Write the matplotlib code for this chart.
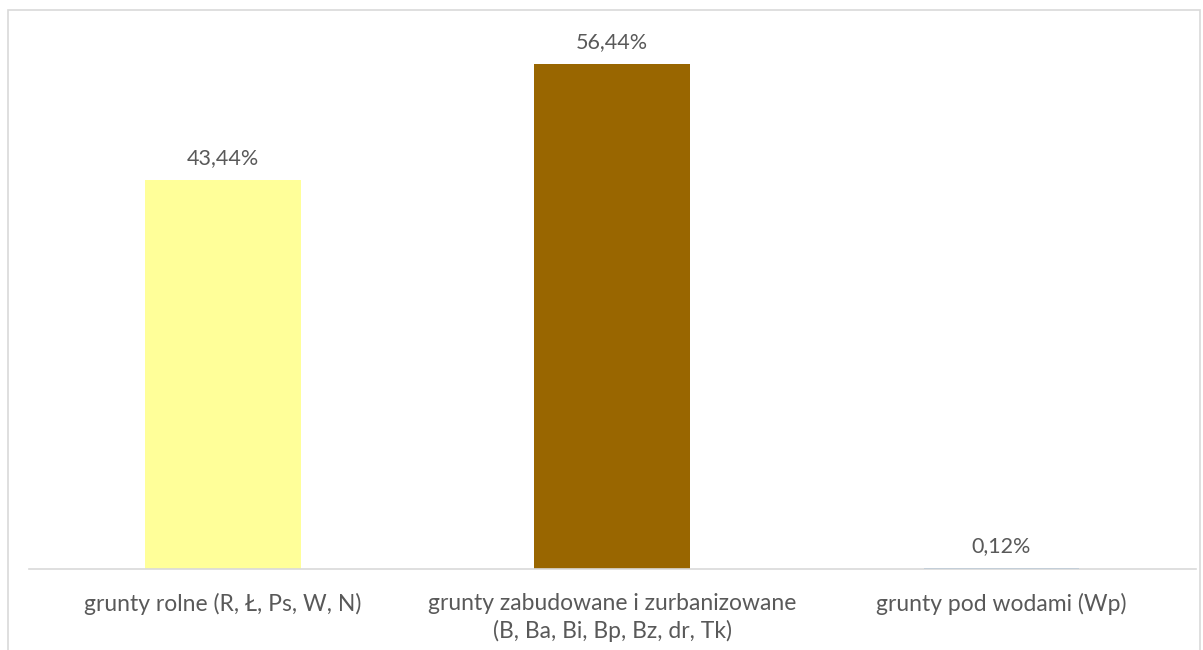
import matplotlib
matplotlib.use('Agg')
import matplotlib.pyplot as plt
from matplotlib.patches import Rectangle

categories = ['grunty rolne (R, Ł, Ps, W, N)',
              'grunty zabudowane i zurbanizowane\n(B, Ba, Bi, Bp, Bz, dr, Tk)',
              'grunty pod wodami (Wp)']
values = [43.44, 56.44, 0.12]
labels = ['43,44%', '56,44%', '0,12%']
colors = ['#FFFF99', '#996600', '#5B9BD5']

plt.rcParams['font.family'] = ['Lato', 'DejaVu Sans']

W, H = 1203, 650
fig = plt.figure(figsize=(W / 100, H / 100), dpi=100)

# chart frame
fig.patches.append(Rectangle((8 / W, -0.1), (1200 - 8) / W, 1.1 - 10 / H,
                             transform=fig.transFigure, fill=False,
                             edgecolor='#D9D9D9', linewidth=1.2))

ax = fig.add_axes([28.5 / W, (H - 569) / H, (1196 - 28.5) / W, (569 - 32) / H])
x = range(len(categories))
ax.bar(x, values, width=0.4, color=colors)
ax.set_xlim(-0.5, 2.5)
ax.set_ylim(0, 60)

for xi, v, lab in zip(x, values, labels):
    ax.text(xi, v + 1.3, lab, ha='center', va='bottom',
            fontsize=15.5, color='#595959')

ax.set_xticks(list(x))
ax.set_xticklabels(categories, fontsize=16.5, color='#595959', linespacing=1.35)
ax.tick_params(axis='x', length=0, pad=17)
ax.set_yticks([])
for s in ['top', 'left', 'right']:
    ax.spines[s].set_visible(False)
ax.spines['bottom'].set_color('#D9D9D9')
ax.spines['bottom'].set_linewidth(1.2)

fig.savefig('out.png', dpi=100)
